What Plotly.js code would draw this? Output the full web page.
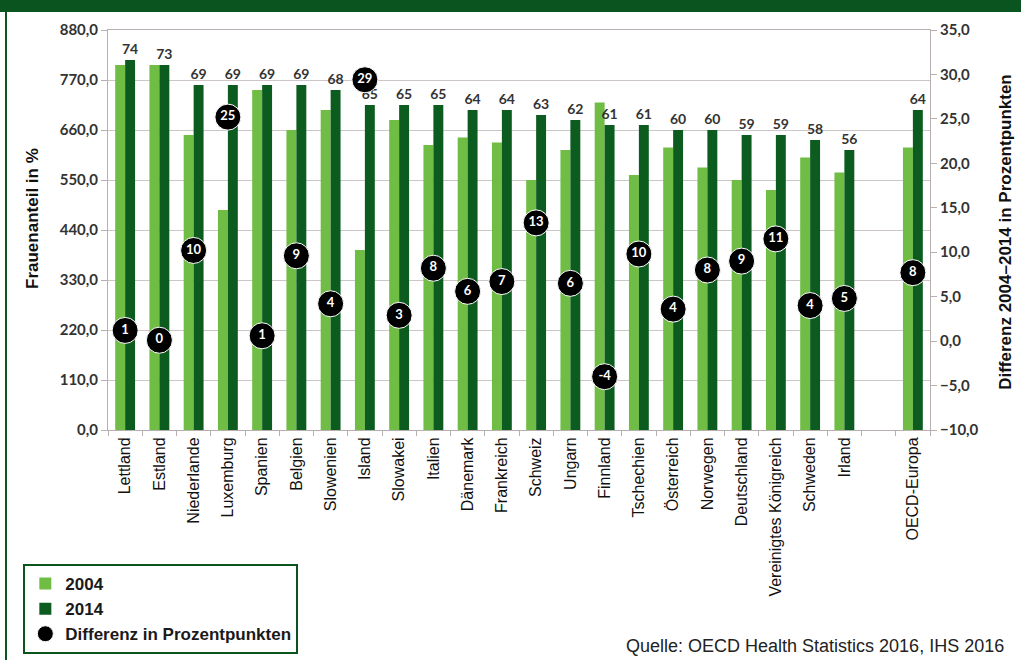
<!DOCTYPE html>
<html>
<head>
<meta charset="utf-8">
<script src="https://cdn.plot.ly/plotly-3.0.1.min.js"></script>
<style>html,body{margin:0;padding:0;background:#fff;}#chart{width:1021px;height:660px;}</style>
</head>
<body>
<div id="chart"></div>
<script>
var categories = ["Lettland","Estland","Niederlande","Luxemburg","Spanien","Belgien","Slowenien","Island","Slowakei","Italien","Dänemark","Frankreich","Schweiz","Ungarn","Finnland","Tschechien","Österreich","Norwegen","Deutschland","Vereinigtes Königreich","Schweden","Irland"," ","OECD-Europa"];
var values2004 = [73,73,59,44,68,60,64,36,62,57,58.5,57.5,50,56,65.5,51,56.5,52.5,50,48,54.5,51.5,null,56.5];
var values2014 = [74,73,69,69,69,69,68,65,65,65,64,64,63,62,61,61,60,60,59,59,58,56,null,64];
var diff = [1,0,10,25,1,9,4,29,3,8,6,7,13,6,-4,10,4,8,9,11,4,5,null,8];
var diffPos = [1.2,0.1,10.2,25.2,0.6,9.6,4.2,29.4,2.9,8.2,5.6,6.7,13.3,6.5,-4,9.8,3.6,8,9,11.5,4,4.8,null,7.7];
var leftTickVals = [0,10,20,30,40,50,60,70,80];
var leftTickText = ["0,0","110,0","220,0","330,0","440,0","550,0","660,0","770,0","880,0"];

var lightGreen = "#6fbd45";
var darkGreen = "#0c5c20";
var frameGreen = "#0a551f";

var traces = [
  {type:"bar", name:"2004", x:categories, y:values2004, marker:{color:lightGreen}, hoverinfo:"skip"},
  {type:"bar", name:"2014", x:categories, y:values2014, marker:{color:darkGreen},
   text:values2014.map(function(v){return v===null?"":String(v);}), textposition:"outside",
   constraintext:"none", cliponaxis:false,
   textfont:{family:"Lato, 'DejaVu Sans', sans-serif", size:14, color:"#333333", weight:"bold"}, hoverinfo:"skip"},
  {type:"scatter", mode:"markers", name:"Differenz in Prozentpunkten", x:categories, y:diffPos, yaxis:"y2",
   marker:{color:"#000000", size:26, line:{color:"#ffffff", width:1}}, cliponaxis:false, hoverinfo:"skip"},
  {type:"scatter", mode:"text", showlegend:false, x:categories, y:diffPos, yaxis:"y2",
   text:diff.map(function(v){return v===null?"":String(v);}), textposition:"middle center",
   textfont:{family:"Lato, 'DejaVu Sans', sans-serif", size:13, color:"#ffffff", weight:"bold"}, cliponaxis:false, hoverinfo:"skip"}
];

var layout = {
  width:1021, height:660,
  margin:{l:108, r:91, t:30, b:230, pad:0, autoexpand:false},
  paper_bgcolor:"#ffffff", plot_bgcolor:"#ffffff",
  separators:",.",
  barmode:"group", bargap:0.42, bargroupgap:0,
  showlegend:true,
  legend:{x:-0.103, y:-0.335, xanchor:"left", yanchor:"top", bordercolor:frameGreen, borderwidth:2,
    bgcolor:"#ffffff", font:{family:"'Liberation Sans', Arial, sans-serif", size:17, color:"#1a1a1a", weight:"bold"},
    tracegroupgap:0, itemsizing:"trace"},
  xaxis:{type:"category", range:[-0.5, 23.5], tickangle:-90, tickson:"boundaries", ticks:"outside", ticklen:5, tickcolor:"#b8b0b0",
    showline:true, linecolor:"#b8b0b0", linewidth:1, mirror:true, showgrid:false,
    tickfont:{family:"'Liberation Sans', Arial, sans-serif", size:16, color:"#111111"}, fixedrange:true},
  yaxis:{range:[0,80], tickvals:leftTickVals, ticktext:leftTickText, ticks:"outside", ticklen:6, tickcolor:"#b8b0b0",
    showline:true, linecolor:"#b8b0b0", linewidth:1, showgrid:true, gridcolor:"#cdc6c6", gridwidth:1, zeroline:false,
    tickfont:{family:"Lato, 'DejaVu Sans', sans-serif", size:15, color:"#333333", weight:"bold"}, fixedrange:true},
  yaxis2:{range:[-10,35], dtick:5, tick0:-10, tickformat:".1f", overlaying:"y", side:"right", ticks:"outside", ticklen:6,
    tickcolor:"#b8b0b0", showline:true, linecolor:"#b8b0b0", linewidth:1, showgrid:false, zeroline:false,
    tickfont:{family:"Lato, 'DejaVu Sans', sans-serif", size:15, color:"#333333", weight:"bold"}, fixedrange:true},
  shapes:[
    {type:"rect", xref:"paper", yref:"paper", x0:-0.14, x1:1.12, y0:1.045, y1:1.08, fillcolor:frameGreen, line:{width:0}, layer:"above"},
    {type:"line", xref:"paper", yref:"paper", x0:-0.1241, x1:-0.1241, y0:1.05, y1:-0.58, line:{color:frameGreen, width:2}}
  ],
  annotations:[
    {xref:"paper", yref:"paper", x:-0.0925, y:0.53, text:"Frauenanteil in %", textangle:-90, showarrow:false,
     font:{family:"'Liberation Sans', Arial, sans-serif", size:17, color:"#111111", weight:"bold"}, xanchor:"center", yanchor:"middle"},
    {xref:"paper", yref:"paper", x:1.091, y:0.495, text:"Differenz 2004–2014 in Prozentpunkten", textangle:-90, showarrow:false,
     font:{family:"'Liberation Sans', Arial, sans-serif", size:17, color:"#111111", weight:"bold"}, xanchor:"center", yanchor:"middle"},
    {xref:"paper", yref:"paper", x:1.0925, y:-0.54, text:"Quelle: OECD Health Statistics 2016, IHS 2016", showarrow:false,
     font:{family:"'Liberation Sans', Arial, sans-serif", size:18, color:"#222222"}, xanchor:"right", yanchor:"middle"}
  ]
};

Plotly.newPlot("chart", traces, layout, {displayModeBar:false, staticPlot:true});
</script>
</body>
</html>
